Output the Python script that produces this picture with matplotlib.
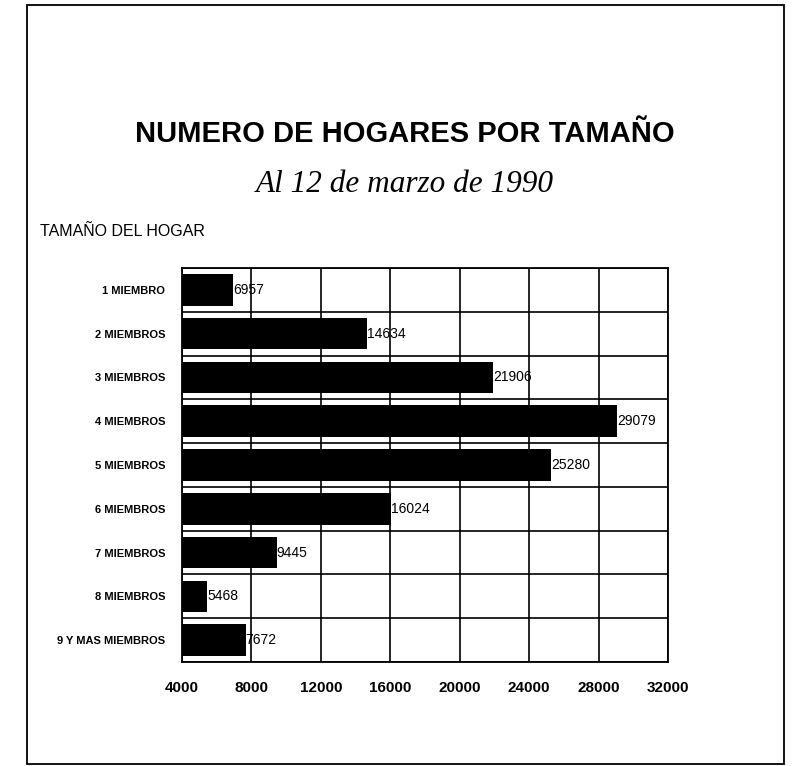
import matplotlib
matplotlib.use("Agg")
import matplotlib.pyplot as plt
from matplotlib.patches import Rectangle

categories = ["1 MIEMBRO", "2 MIEMBROS", "3 MIEMBROS", "4 MIEMBROS", "5 MIEMBROS",
              "6 MIEMBROS", "7 MIEMBROS", "8 MIEMBROS", "9 Y MAS MIEMBROS"]
values = [6957, 14634, 21906, 29079, 25280, 16024, 9445, 5468, 7672]
xticks = [4000, 8000, 12000, 16000, 20000, 24000, 28000, 32000]

sans = "Liberation Sans"

W, H = 792, 766
fig = plt.figure(figsize=(W / 100, H / 100), dpi=100)
fig.patch.set_facecolor("white")

# outer frame
fig.add_artist(Rectangle((27 / W, 1 - 764 / H), (784 - 27) / W, (764 - 5) / H,
                         transform=fig.transFigure, fill=False, edgecolor="black", lw=1.3))

fig.text(405 / W, 1 - 134 / H, "NUMERO DE HOGARES POR TAMAÑO", ha="center", va="center",
         fontsize=21, fontweight="bold", family=sans)
fig.text(405 / W, 1 - 184 / H, "Al 12 de marzo de 1990", ha="center", va="center",
         fontsize=22.5, fontstyle="italic", family="Liberation Serif")
fig.text(40 / W, 1 - 232 / H, "TAMAÑO DEL HOGAR", ha="left", va="center",
         fontsize=11.5, family=sans)

ax = fig.add_axes([182 / W, 1 - 662 / H, (668 - 182) / W, (662 - 268) / H])
y = list(range(len(categories)))
ax.barh(y, [v - xticks[0] for v in values], left=xticks[0], height=0.72,
        color="black", zorder=3)
for yi, v in zip(y, values):
    ax.text(v, yi, str(v), va="center", ha="left", fontsize=10, family=sans, zorder=4)

ax.set_xlim(xticks[0], xticks[-1])
ax.set_ylim(len(categories) - 0.5, -0.5)
ax.set_xticks(xticks)
ax.set_xticklabels([str(t) for t in xticks], fontsize=11, fontweight="bold", family=sans)
ax.set_yticks(y)
ax.set_yticklabels(categories, fontsize=8, fontweight="bold", family=sans)
ax.set_yticks([i + 0.5 for i in range(-1, len(categories))], minor=True)
ax.grid(True, axis="x", which="major", color="black", lw=1.2, zorder=1)
ax.grid(True, axis="y", which="minor", color="black", lw=1.2, zorder=1)
ax.tick_params(axis="both", which="both", length=0)
ax.tick_params(axis="x", pad=14)
ax.tick_params(axis="y", pad=12)
for s in ax.spines.values():
    s.set_linewidth(1.3)

fig.savefig("out.png", dpi=100)
